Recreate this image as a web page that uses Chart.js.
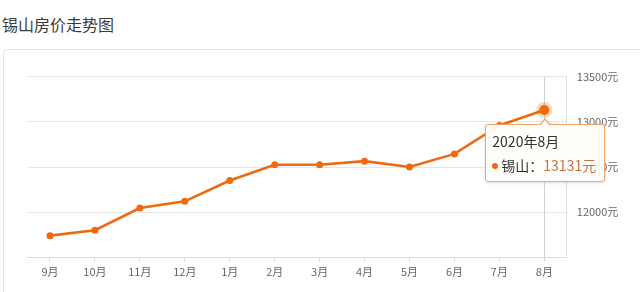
<!DOCTYPE html>
<html>
<head>
<meta charset="utf-8">
<script src="https://cdn.jsdelivr.net/npm/chart.js@4/dist/chart.umd.min.js"></script>
<style>
  html, body { margin: 0; padding: 0; background: #fff; width: 640px; height: 292px; overflow: hidden; }
  body { position: relative; font-family: "Noto Sans CJK SC", "Noto Sans", sans-serif; }
  #title { position: absolute; left: 2px; top: 12px; font-size: 16px; line-height: 24px; color: #3a3a3a; }
  #card { position: absolute; left: 3px; top: 49px; width: 700px; height: 320px; border: 1px solid #e4e4e4; border-radius: 4px; box-sizing: border-box; }
  #wrap { position: absolute; left: 0; top: 0; width: 640px; height: 292px; }
  #tip { position: absolute; display: none; width: 120px; height: 58px; box-sizing: border-box;
         background: rgba(255,253,250,0.97); border: 1px solid #efa66a; border-radius: 3px;
         box-shadow: 0 1px 3px rgba(0,0,0,0.12); font-size: 14px; color: #333; pointer-events: none; }
  #tip:before { content: ""; position: absolute; left: 53px; top: -7px; border-left: 6px solid transparent; border-right: 6px solid transparent; border-bottom: 7px solid #efa66a; }
  #tip:after { content: ""; position: absolute; left: 54px; top: -5px; border-left: 5px solid transparent; border-right: 5px solid transparent; border-bottom: 6px solid #fffdfa; }
  #tip .t { position: absolute; left: 6px; top: 6px; line-height: 20px; }
  #tip .b { position: absolute; left: 6px; top: 30px; line-height: 20px; white-space: nowrap; }
  #tip .dot { display: inline-block; width: 6px; height: 6px; border-radius: 3px; background: #ee6a12; margin-right: 3px; vertical-align: 2px; }
  #tip .v { color: #c4764a; }
</style>
</head>
<body>
<div id="title">锡山房价走势图</div>
<div id="card"></div>
<div id="wrap"><canvas id="c"></canvas></div>
<div id="tip"><div class="t"></div><div class="b"></div></div>
<script>
const seriesName = '锡山';
const months = ['9月','10月','11月','12月','1月','2月','3月','4月','5月','6月','7月','8月'];
const years  = ['2019','2019','2019','2019','2020','2020','2020','2020','2020','2020','2020','2020'];
const prices = [11740, 11800, 12045, 12120, 12350, 12525, 12525, 12565, 12500, 12645, 12960, 13131];
const yMin = 11500, yMax = 13500, yStep = 500;
const unit = '元';
const activeIndex = 11;

const lineColor = '#ee6a12';

const crosshair = {
  id: 'crosshair',
  beforeDatasetsDraw(chart) {
    const active = chart.getActiveElements();
    if (!active.length) return;
    const x = chart.scales.x.getPixelForValue(active[0].index);
    const { top, bottom } = chart.chartArea;
    const ctx = chart.ctx;
    ctx.save();
    ctx.strokeStyle = '#d0d0d0';
    ctx.lineWidth = 1;
    ctx.beginPath();
    ctx.moveTo(Math.round(x) + 0.5, top);
    ctx.lineTo(Math.round(x) + 0.5, bottom);
    ctx.stroke();
    ctx.restore();
  }
};

function externalTip(context) {
  const tip = document.getElementById('tip');
  const t = context.tooltip;
  if (!t || t.opacity === 0 || !t.dataPoints || !t.dataPoints.length) { tip.style.display = 'none'; return; }
  const dp = t.dataPoints[0];
  tip.querySelector('.t').textContent = years[dp.dataIndex] + '年' + months[dp.dataIndex];
  tip.querySelector('.b').innerHTML = '<span class="dot"></span>' + seriesName + '：<span class="v">' + prices[dp.dataIndex] + unit + '</span>';
  tip.style.display = 'block';
  tip.style.left = (t.caretX - 59) + 'px';
  tip.style.top = (t.caretY + 14) + 'px';
}

const chart = new Chart(document.getElementById('c'), {
  type: 'line',
  data: {
    labels: months,
    datasets: [{
      label: seriesName,
      data: prices,
      borderColor: lineColor,
      backgroundColor: lineColor,
      borderWidth: 2.6,
      tension: 0,
      pointRadius: 3.5,
      pointBorderWidth: 0,
      pointBackgroundColor: lineColor,
      pointHoverRadius: 5,
      pointHoverBorderWidth: 6,
      pointHoverBorderColor: 'rgba(238,106,18,0.28)',
      pointHoverBackgroundColor: lineColor
    }]
  },
  options: {
    responsive: true,
    maintainAspectRatio: false,
    animation: false,
    events: [],
    layout: { padding: { left: 27.5, top: 76.7, right: 0, bottom: 0 } },
    plugins: {
      legend: { display: false },
      title: { display: false },
      tooltip: { enabled: false, external: externalTip, mode: 'index', intersect: false }
    },
    scales: {
      x: {
        type: 'category',
        offset: true,
        afterFit(s) { s.height = 34.7; },
        grid: { display: true, drawOnChartArea: false, drawTicks: true, tickLength: 4, color: '#d6d6d6', offset: false },
        border: { display: true, color: '#dcdcdc' },
        ticks: { color: '#666', font: { size: 11, family: '"Noto Sans CJK SC", sans-serif' }, padding: 4, maxRotation: 0, autoSkip: false }
      },
      y: {
        position: 'right',
        min: yMin, max: yMax,
        afterFit(s) { s.width = 73.2; },
        grid: { color: '#e6e6e6', drawTicks: false },
        border: { display: true, color: '#dcdcdc' },
        ticks: { stepSize: yStep, color: '#666', padding: 10, font: { size: 11, family: '"Noto Sans CJK SC", sans-serif' },
                 callback: v => (v === yMin ? '' : v + unit) }
      }
    }
  },
  plugins: [crosshair]
});

const act = [{ datasetIndex: 0, index: activeIndex }];
chart.setActiveElements(act);
const pt = chart.getDatasetMeta(0).data[activeIndex];
chart.tooltip.setActiveElements(act, { x: pt.x, y: pt.y });
chart.update();
</script>
</body>
</html>
